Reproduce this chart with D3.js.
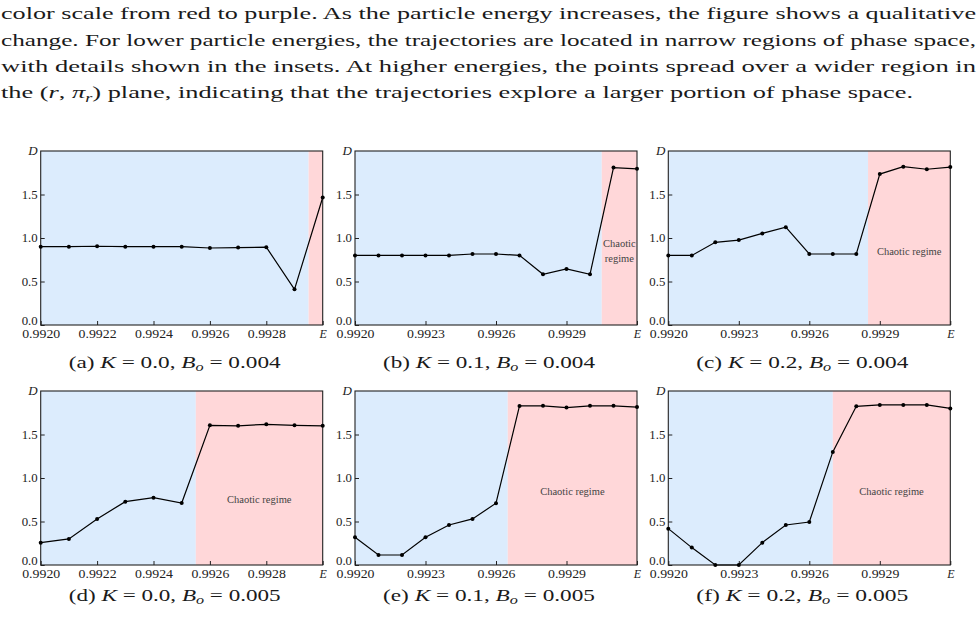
<!DOCTYPE html>
<html>
<head>
<meta charset="utf-8">
<script src="https://cdn.jsdelivr.net/npm/d3@7"></script>
<style>
  body { margin: 0; background: #fff; }
  svg { display: block; }
  text { font-family: "Liberation Serif", "Times New Roman", serif; fill: #111; }
</style>
</head>
<body>
<svg id="fig" width="977" height="620"></svg>
<script>
// energies sampled in each run
var energy11 = [0.9920, 0.9921, 0.9922, 0.9923, 0.9924, 0.9925, 0.9926, 0.9927, 0.9928, 0.9929, 0.9930];
var energy13 = [0.9920, 0.9921, 0.9922, 0.9923, 0.9924, 0.9925, 0.9926, 0.9927, 0.9928, 0.9929, 0.9930, 0.9931, 0.9932];

// dimension D for each panel
var dimA = [0.90, 0.90, 0.905, 0.90, 0.90, 0.90, 0.885, 0.89, 0.895, 0.41, 1.465];
var dimB = [0.80, 0.80, 0.80, 0.80, 0.80, 0.816, 0.816, 0.80, 0.583, 0.645, 0.583, 1.81, 1.795];
var dimC = [0.80, 0.80, 0.95, 0.976, 1.053, 1.125, 0.816, 0.816, 0.816, 1.735, 1.82, 1.79, 1.815];
var dimD = [0.257, 0.30, 0.53, 0.728, 0.774, 0.713, 1.606, 1.60, 1.617, 1.606, 1.60];
var dimE = [0.32, 0.115, 0.115, 0.32, 0.46, 0.53, 0.71, 1.828, 1.83, 1.81, 1.83, 1.83, 1.815];
var dimF = [0.418, 0.20, 0.0, 0.0, 0.257, 0.46, 0.494, 1.30, 1.824, 1.84, 1.84, 1.84, 1.80];

// where the chaotic regime starts
var chaosStart = [0.99295, 0.99305, 0.99285, 0.99255, 0.99265, 0.9927];

var xTicks11 = [0.9920, 0.9922, 0.9924, 0.9926, 0.9928, 0.9930];
var xTicks13 = [0.9920, 0.9923, 0.9926, 0.9929, 0.9932];
var yTicks = [0.0, 0.5, 1.0, 1.5];

var captionLetters = ["a", "b", "c", "d", "e", "f"];
var captionK = ["0.0", "0.1", "0.2", "0.0", "0.1", "0.2"];
var captionB = ["0.004", "0.004", "0.004", "0.005", "0.005", "0.005"];

var paragraph = [
  "color scale from red to purple. As the particle energy increases, the figure shows a qualitative",
  "change. For lower particle energies, the trajectories are located in narrow regions of phase space,",
  "with details shown in the insets. At higher energies, the points spread over a wider region in"
];

var svg = d3.select("#fig");

// ---- paragraph text above the figure
paragraph.forEach(function(line, i) {
  svg.append("text")
    .attr("x", 1)
    .attr("y", 19.3 + i * 26.3)
    .attr("textLength", 975)
    .attr("lengthAdjust", "spacingAndGlyphs")
    .style("font-size", "17.5px")
    .style("fill", "#1a1a1a")
    .text(line);
});
var last = svg.append("text")
  .attr("x", 1)
  .attr("y", 19.3 + 3 * 26.3)
  .attr("textLength", 912)
  .attr("lengthAdjust", "spacingAndGlyphs")
  .style("font-size", "17.5px")
  .style("fill", "#1a1a1a");
last.append("tspan").text("the (");
last.append("tspan").style("font-style", "italic").text("r");
last.append("tspan").text(", ");
last.append("tspan").style("font-style", "italic").text("\u03c0");
last.append("tspan").style("font-style", "italic").style("font-size", "12px").attr("dy", 4).text("r");
last.append("tspan").attr("dy", -4).text(") plane, indicating that the trajectories explore a larger portion of phase space.");

// ---- panels
var panelW = 282, panelH = 174;
var lefts = [40.7, 355, 668.3];
var tops = [151, 391];

var panels = [
  {x: energy11, y: dimA, ticks: xTicks11, label: "two"},
  {x: energy13, y: dimB, ticks: xTicks13, label: "split"},
  {x: energy13, y: dimC, ticks: xTicks13, label: "one", ly: 0.85},
  {x: energy11, y: dimD, ticks: xTicks11, label: "one", ly: 0.75},
  {x: energy13, y: dimE, ticks: xTicks13, label: "one", ly: 0.85},
  {x: energy13, y: dimF, ticks: xTicks13, label: "one", ly: 0.85}
];

panels.forEach(function(p, i) {
  var left = lefts[i % 3];
  var top = tops[Math.floor(i / 3)];
  var g = svg.append("g").attr("transform", "translate(" + left + "," + top + ")");

  var x = d3.scaleLinear()
    .domain([p.x[0], p.x[p.x.length - 1]])
    .range([0, panelW]);
  var y = d3.scaleLinear().domain([0, 2]).range([panelH, 0]);

  // stable (blue) and chaotic (pink) backgrounds
  g.append("rect")
    .attr("x", 0).attr("y", 0)
    .attr("width", x(chaosStart[i])).attr("height", panelH)
    .attr("fill", "#dcecfd");
  g.append("rect")
    .attr("x", x(chaosStart[i])).attr("y", 0)
    .attr("width", panelW - x(chaosStart[i])).attr("height", panelH)
    .attr("fill", "#ffd7d9");

  // region label
  var cx = (x(chaosStart[i]) + panelW) / 2;
  if (p.label === "split") {
    g.append("text").attr("x", cx).attr("y", y(0.935) + 3.5)
      .attr("text-anchor", "middle").style("font-size", "10.5px").style("fill", "#444")
      .text("Chaotic");
    g.append("text").attr("x", cx).attr("y", y(0.766) + 3.5)
      .attr("text-anchor", "middle").style("font-size", "10.5px").style("fill", "#444")
      .text("regime");
  } else if (p.label === "one") {
    g.append("text").attr("x", cx).attr("y", y(p.ly) + 3.5)
      .attr("text-anchor", "middle").style("font-size", "10.5px").style("fill", "#444")
      .text("Chaotic regime");
  }

  // axes with inward ticks
  var lastTick = p.ticks[p.ticks.length - 1];
  var xAxis = d3.axisBottom(x)
    .tickValues(p.ticks)
    .tickSize(-4)
    .tickPadding(4)
    .tickFormat(function(d) { return d === lastTick ? "E" : d3.format(".4f")(d); });
  var gx = g.append("g")
    .attr("transform", "translate(0," + panelH + ")")
    .call(xAxis);
  gx.select(".domain").remove();
  gx.selectAll("line").attr("stroke", "#222");
  gx.selectAll("text")
    .style("font-family", "Liberation Serif, serif")
    .style("font-size", "12px")
    .style("fill", "#222")
    .style("font-style", function(d) { return d === lastTick ? "italic" : "normal"; })
    .attr("textLength", function(d) { return d === lastTick ? null : 38; })
    .attr("lengthAdjust", "spacingAndGlyphs");

  var yAxis = d3.axisLeft(y)
    .tickValues(yTicks)
    .tickSize(-4)
    .tickPadding(3)
    .tickFormat(d3.format(".1f"));
  var gy = g.append("g").call(yAxis);
  gy.select(".domain").remove();
  gy.selectAll("line").attr("stroke", "#222");
  gy.selectAll("text")
    .style("font-family", "Liberation Serif, serif")
    .style("font-size", "12px")
    .style("fill", "#222")
    .attr("textLength", 16)
    .attr("lengthAdjust", "spacingAndGlyphs")
    .attr("y", function(d) { return d === 0 ? -4 : 0; });

  g.append("text")
    .attr("x", -3).attr("y", y(2) + 4)
    .attr("text-anchor", "end")
    .style("font-size", "13px").style("font-style", "italic").style("fill", "#222")
    .text("D");

  // frame
  g.append("rect")
    .attr("x", 0).attr("y", 0)
    .attr("width", panelW).attr("height", panelH)
    .attr("fill", "none").attr("stroke", "#222").attr("stroke-width", 1.1);

  // data line and points
  var pts = p.x.map(function(e, k) { return [e, p.y[k]]; });
  var line = d3.line()
    .x(function(d) { return x(d[0]); })
    .y(function(d) { return y(d[1]); });
  g.append("path")
    .attr("d", line(pts))
    .attr("fill", "none")
    .attr("stroke", "#000")
    .attr("stroke-width", 1.2);
  g.selectAll(".pt")
    .data(pts)
    .enter().append("circle")
    .attr("class", "pt")
    .attr("cx", function(d) { return x(d[0]); })
    .attr("cy", function(d) { return y(d[1]); })
    .attr("r", 2)
    .attr("fill", "#000");

  // caption
  var cap = svg.append("text")
    .attr("x", left + panelW / 2 - 7 - 106)
    .attr("y", top + panelH + (i < 3 ? 43 : 35.5))
    .attr("textLength", 212)
    .attr("lengthAdjust", "spacingAndGlyphs")
    .style("font-size", "16.5px")
    .style("fill", "#1a1a1a");
  cap.append("tspan").text("(" + captionLetters[i] + ")  ");
  cap.append("tspan").style("font-style", "italic").text("K");
  cap.append("tspan").text(" = " + captionK[i] + ",  ");
  cap.append("tspan").style("font-style", "italic").text("B");
  cap.append("tspan").style("font-style", "italic").style("font-size", "11.5px").attr("dy", 3).text("o");
  cap.append("tspan").attr("dy", -3).text(" = " + captionB[i]);
});
</script>
</body>
</html>
